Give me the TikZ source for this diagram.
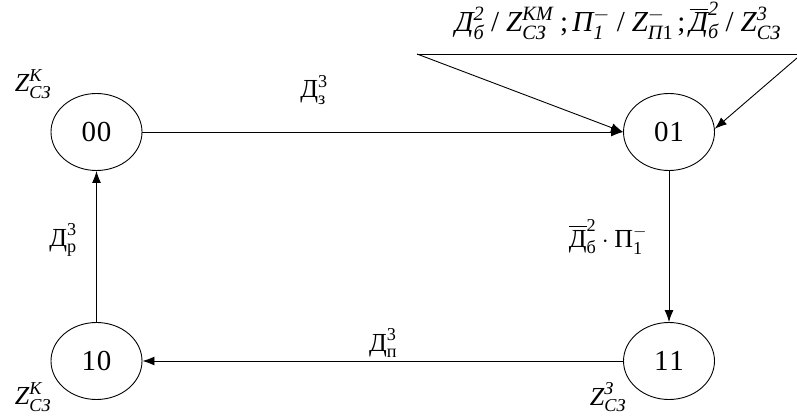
\documentclass[tikz,border=0pt]{standalone}
\usepackage{amsmath}
\usepackage{fontspec}
\setmainfont{Liberation Serif}
\usetikzlibrary{arrows.meta,shapes.geometric}
\newcommand\tx[1]{\text{#1}}
\newcommand\ti[1]{\text{\itshape #1}}
\newcommand\lowsub[1]{\text{\itshape\raisebox{-2pt}{#1}}}
\begin{document}
\begin{tikzpicture}[x=1pt,y=-1pt,
  state/.style={draw,line width=0.9pt,ellipse,minimum width=91pt,minimum height=77pt,inner sep=0pt,font=\fontsize{29}{31}\selectfont},
  conn/.style={line width=0.9pt,-{Latex[length=12pt,width=9pt]}},
  lbl/.style={inner sep=0pt,font=\fontsize{26}{28}\selectfont},
  zlbl/.style={inner sep=0pt,font=\fontsize{26}{28}\selectfont},
  toplbl/.style={inner sep=0pt,font=\fontsize{29}{31}\selectfont}]
\useasboundingbox (0,0) rectangle (797,417);
\node[state] (n00) at (96.5,132) {0\kern1pt0};
\node[state] (n01) at (669,132) {0\kern1pt1};
\node[state] (n10) at (96.5,361) {1\kern1pt0};
\node[state] (n11) at (669,361) {1\kern1pt1};
\coordinate (tl) at (417,54);
\coordinate (tr) at (797,54);
\coordinate (rs) at (797,58);
\draw[line width=0.9pt] (tl) -- (tr);
\draw[conn] (tl) -- (n01.west);
\draw[conn] (rs) -- (n01.4);
\draw[conn] (n00) -- (n01);
\draw[conn] (n01) -- (n11);
\draw[conn] (n11) -- (n10);
\draw[conn] (n10) -- (n00);
\node[toplbl] (ztop) at (618,21) {$\ti{Д}_{\ti{б}}^{\ti{2}}\;\tx{/}\;\ti{Z}_{\lowsub{СЗ}}^{\ti{КМ}}\;\tx{;}\,\ti{П}_{\ti{1}}^{-}\;\tx{/}\;\ti{Z}_{\ti{П}\tx{1}}^{-}\,\tx{;}\,\overline{\ti{Д}}_{\ti{б}}^{\ti{2}}\;\tx{/}\;\ti{Z}_{\lowsub{СЗ}}^{\ti{3}}$};
\node[zlbl] (z00) at (33,84) {$\ti{Z}_{\ti{СЗ}}^{\ti{К}}$};
\node[zlbl] (z10) at (33,397) {$\ti{Z}_{\ti{СЗ}}^{\ti{К}}$};
\node[zlbl] (z11) at (608,397) {$\ti{Z}_{\ti{СЗ}}^{\ti{З}}$};
\node[lbl] (l1) at (314,90) {$\tx{Д}_{\tx{з}}^{\tx{3}}$};
\node[lbl] (l2) at (608,237) {$\overline{\tx{Д}}_{\tx{б}}^{\tx{2}}\cdot\tx{П}_{\tx{1}}^{-}$};
\node[lbl] (l3) at (63,240) {$\tx{Д}_{\tx{р}}^{\tx{3}}$};
\node[lbl] (l4) at (383,343) {$\tx{Д}_{\tx{п}}^{\tx{3}}$};
\end{tikzpicture}
\end{document}
